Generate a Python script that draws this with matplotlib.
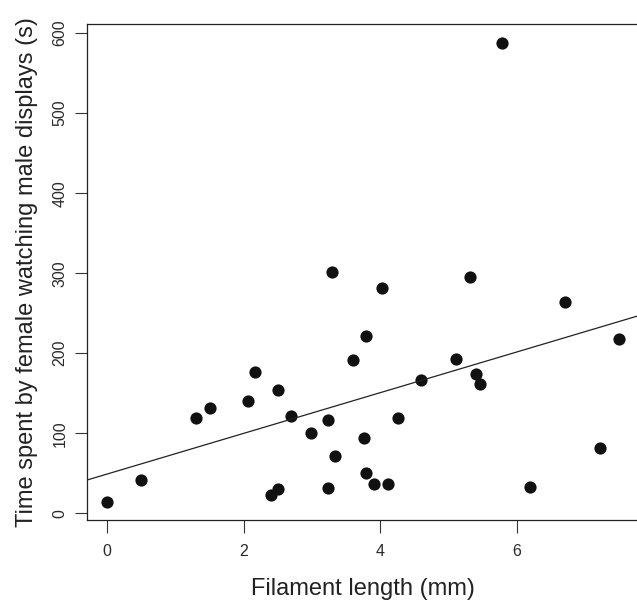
import numpy as np
import matplotlib
matplotlib.use("Agg")
import matplotlib.pyplot as plt

plt.rcParams['font.family'] = ['Liberation Sans', 'DejaVu Sans']

# filament length (mm) and time spent watching (s)
filament = [0.0, 0.50, 1.30, 1.50, 2.06, 2.17, 2.50, 2.40, 2.51, 2.70,
            2.99, 3.23, 3.24, 3.30, 3.34, 3.60, 3.77, 3.79, 3.79, 3.91,
            4.03, 4.12, 4.26, 4.60, 5.11, 5.31, 5.40, 5.46, 5.79, 6.19,
            6.71, 7.22, 7.50]
watch_time = [14, 41, 119, 131, 140, 177, 154, 23, 30, 122,
              100, 116, 31, 301, 71, 192, 94, 221, 50, 37,
              281, 37, 119, 166, 193, 295, 174, 162, 588, 33,
              264, 82, 218]

x = np.array(filament)
y = np.array(watch_time)

# R style axis limits (4% padding each side)
def r_lim(v):
    pad = 0.04 * (v.max() - v.min())
    return v.min() - pad, v.max() + pad

xlim = r_lim(x)
ylim = r_lim(y)

W, H = 637, 605
fig = plt.figure(figsize=(W / 100, H / 100), dpi=100)

px_per_x = 68.25
left_px, bottom_px, top_px = 86.7, 520.4, 24.4
right_px = left_px + (xlim[1] - xlim[0]) * px_per_x
ax = fig.add_axes([left_px / W, (H - bottom_px) / H,
                   (right_px - left_px) / W, (bottom_px - top_px) / H])

ax.plot(x, y, 'o', color='#111111', markersize=8.8, markeredgewidth=0)

slope, intercept = np.polyfit(x, y, 1)
xx = np.array(xlim)
ax.plot(xx, intercept + slope * xx, color='#222222', lw=0.9)

ax.set_xlim(*xlim)
ax.set_ylim(*ylim)
ax.set_xticks([0, 2, 4, 6])
ax.set_yticks([0, 100, 200, 300, 400, 500, 600])
ax.tick_params(direction='out', length=9, width=0.8, colors='#333333',
               labelsize=11.5, labelcolor='#2a2a2a')
ax.tick_params(axis='x', pad=8)
ax.tick_params(axis='y', pad=5)
plt.setp(ax.get_yticklabels(), rotation=90, va='center')

for s in ax.spines.values():
    s.set_linewidth(0.9)
    s.set_color('#222222')

ax.set_xlabel('Filament length (mm)', fontsize=17, color='#222222', labelpad=14)
ax.set_ylabel('Time spent by female watching male displays (s)', fontsize=17,
              color='#222222', labelpad=10)

fig.savefig('out.png', dpi=100)
